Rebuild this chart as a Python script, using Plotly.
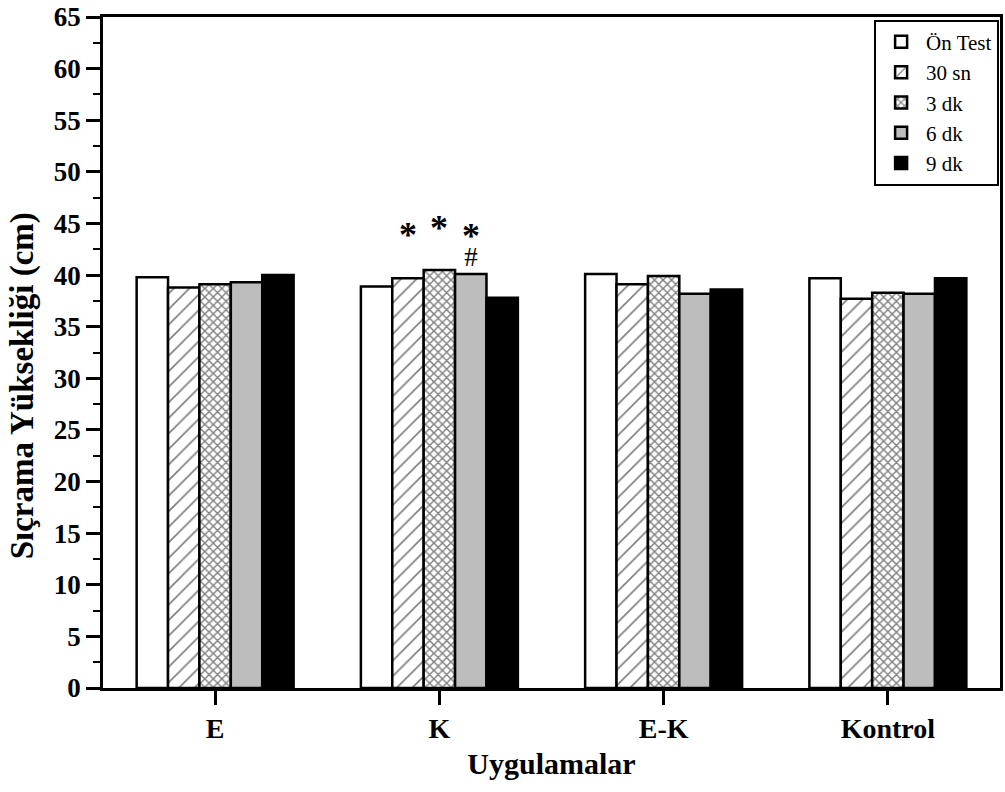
import plotly.graph_objects as go

categories = ["E", "K", "E-K", "Kontrol"]
series_names = ["Ön Test", "30 sn", "3 dk", "6 dk", "9 dk"]
on_test = [39.8, 38.9, 40.1, 39.7]
sn30 = [38.8, 39.7, 39.1, 37.7]
dk3 = [39.1, 40.5, 39.9, 38.3]
dk6 = [39.3, 40.1, 38.2, 38.2]
dk9 = [40.0, 37.8, 38.6, 39.7]
y_ticks = list(range(0, 70, 5))

# significance markers: (category, series index, labels stacked top to bottom, y value of label block)
markers = [("K", 1, ["*"], 43.9), ("K", 2, ["*"], 44.6), ("K", 3, ["*", "#"], 43.0)]

values = [on_test, sn30, dk3, dk6, dk9]
styles = [
    dict(color="white", pattern=dict(shape="")),
    dict(color="white", pattern=dict(shape="/", fgcolor="black", bgcolor="white", size=11, solidity=0.15)),
    dict(color="white", pattern=dict(shape="x", fgcolor="black", bgcolor="white", size=6, solidity=0.42)),
    dict(color="#bdbdbd", pattern=dict(shape="")),
    dict(color="black", pattern=dict(shape="")),
]

SERIF = "Liberation Serif, Times New Roman, serif"

fig = go.Figure()
for name, vals, st in zip(series_names, values, styles):
    fig.add_trace(go.Bar(
        x=categories, y=vals, name=name,
        marker=dict(color=st["color"], pattern=st["pattern"],
                    line=dict(color="black", width=2.5)),
    ))


def fmt(lbl):
    if lbl == "*":
        return "<span style='font-size:36px;font-weight:bold'>*</span>"
    return "<span style='font-size:27px'>" + lbl + "</span>"


n = len(series_names)
group_frac = 0.7
for cat, si, labels, yv in markers:
    ci = categories.index(cat)
    xpos = ci + (si - (n - 1) / 2) * group_frac / n
    if len(labels) == 1:
        fig.add_annotation(
            x=xpos, y=yv, xref="x", yref="y", text="*", showarrow=False,
            font=dict(family=SERIF, size=36, color="black", weight="bold"),
        )
    else:
        fig.add_annotation(
            x=xpos, y=yv, xref="x", yref="y", text="<br>".join(fmt(l) for l in labels),
            showarrow=False, font=dict(family=SERIF, size=14, color="black"),
        )

# y-axis title as a rotated annotation (placed slightly below the axis centre, as in the reference)
fig.add_annotation(
    text="Sıçrama Yüksekliği (cm)", xref="paper", yref="paper",
    x=-0.09, y=0.45, xanchor="center", yanchor="middle", textangle=-90,
    showarrow=False, font=dict(family=SERIF, size=33, color="black", weight="bold"),
)

fig.update_layout(
    width=1005, height=792,
    margin=dict(l=103, r=2, t=17, b=104),
    paper_bgcolor="white", plot_bgcolor="white",
    barmode="group", bargap=0.3, bargroupgap=0,
    font=dict(family=SERIF, color="black"),
    showlegend=True,
    legend=dict(
        x=0.999, y=0.996, xanchor="right", yanchor="top",
        bgcolor="white", bordercolor="black", borderwidth=2,
        font=dict(family=SERIF, size=21, color="black"),
        tracegroupgap=0, itemwidth=40,
    ),
    xaxis=dict(
        type="category", range=[-0.5, 3.5],
        showline=True, linecolor="black", linewidth=2.5, mirror=True,
        ticks="outside", ticklen=14, tickwidth=2.5, tickcolor="black",
        tickfont=dict(family=SERIF, size=28, color="black", weight="bold"),
        title=dict(text="Uygulamalar", font=dict(family=SERIF, size=30, color="black", weight="bold"), standoff=10),
        showgrid=False, zeroline=False,
    ),
    yaxis=dict(
        range=[0, 65], tickvals=y_ticks,
        showline=True, linecolor="black", linewidth=2.5, mirror=True,
        ticks="outside", ticklen=14, tickwidth=2.5, tickcolor="black",
        minor=dict(dtick=2.5, ticks="outside", ticklen=7, tickwidth=2, tickcolor="black", showgrid=False),
        tickfont=dict(family=SERIF, size=27, color="black", weight="bold"),
        showgrid=False, zeroline=False,
    ),
)

fig.write_html("out.html", config={"displayModeBar": False},
               post_script="document.body.style.margin='0';document.body.style.overflow='hidden';")
